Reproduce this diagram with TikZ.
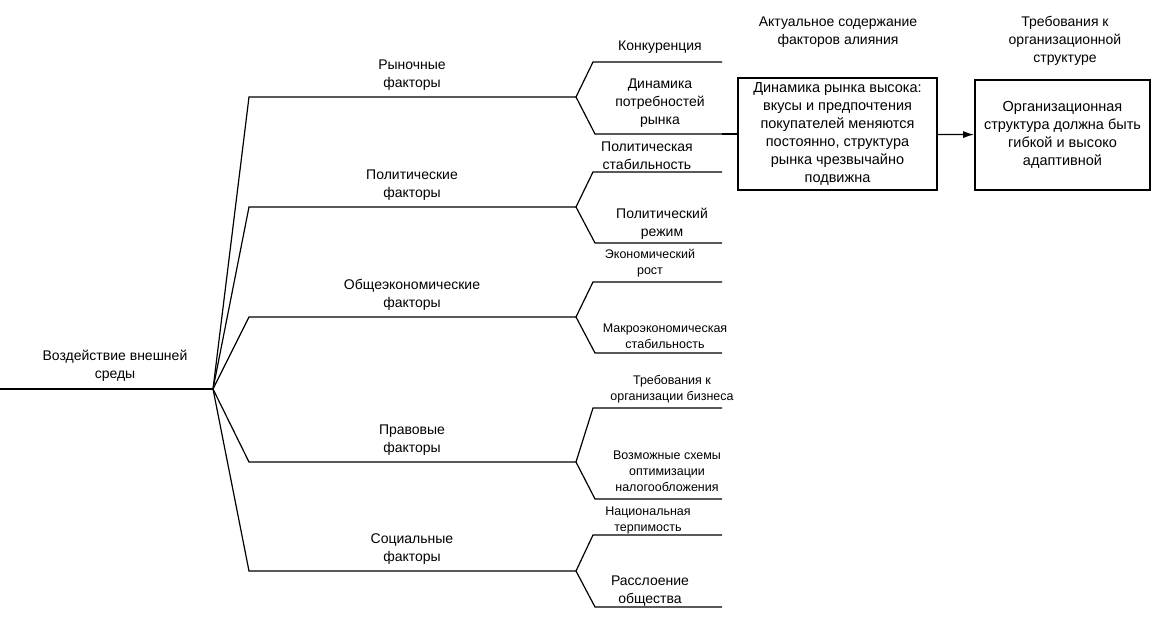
\documentclass[tikz,border=0pt]{standalone}
\usepackage{fontspec}
\setmainfont{Liberation Sans}
\usepackage{tikz}
\usetikzlibrary{arrows.meta}

\begin{document}
\begin{tikzpicture}[x=1pt,y=-1pt,
        every node/.style={align=center,inner sep=0pt},
        big/.style={font=\fontsize{14}{18}\selectfont},
        small/.style={font=\fontsize{12.5}{16}\selectfont},
        ln/.style={line width=1.2pt},
        box/.style={draw,line width=1.8pt,font=\fontsize{14.5}{18}\selectfont}]
        \useasboundingbox (0,0) rectangle (1159,621);
        % root
        \coordinate (in) at (0,389);
        \coordinate (hub) at (213,389);
        \node[big] (root) at (115,366) {Воздействие внешней\\среды};
        \draw[ln] (in) -- (hub);
        % factors
        \foreach \n/\y/\t in {f1/97/Рыночные,f2/207/Политические,f3/317/Общеэкономические,f4/462/Правовые,f5/571/Социальные}{
            \coordinate (\n s) at (249,\y);
            \coordinate (\n e) at (576,\y);
            \node[big] (\n) at (412,\y-22) {\t\\факторы};
            \draw[ln] (hub) -- (\n s) -- (\n e);
        }
        % sub-branches
        \foreach \n/\a/\b in {f1/62/134,f2/172/243,f3/282/353,f4/408/499,f5/535/607}{
            \coordinate (\n a) at (593,\a);
            \coordinate (\n A) at (722,\a);
            \coordinate (\n b) at (595,\b);
            \coordinate (\n B) at (722,\b);
            \draw[ln] (\n A) -- (\n a) -- (\n e) -- (\n b) -- (\n B);
        }
        \node[big] (s11) at (660,47) {Конкуренция};
        \node[big] (s12) at (660,103) {Динамика\\потребностей\\рынка};
        \node[big] (s21) at (647,156) {Политическая\\стабильность};
        \node[big] (s22) at (662,224) {Политический\\режим};
        \node[small] (s31) at (650,263) {Экономический\\рост};
        \node[small] (s32) at (665,336) {Макроэкономическая\\стабильность};
        \node[small] (s41) at (672,389) {Требования к\\организации бизнеса};
        \node[small] (s42) at (667,471) {Возможные схемы\\оптимизации\\налогообложения};
        \node[small] (s51) at (648,520) {Национальная\\терпимость};
        \node[big] (s52) at (650,591) {Расслоение\\общества};
        % boxes
        \node[big] (h1) at (838,32) {Актуальное содержание\\факторов алияния};
        \node[big] (h2) at (1065,41) {Требования к\\организационной\\структуре};
        \node[box,minimum width=199,minimum height=112] (act) at (837.5,134)
            {Динамика рынка высока:\\вкусы и предпочтения\\покупателей меняются\\постоянно, структура\\рынка чрезвычайно\\подвижна};
        \node[box,minimum width=175,minimum height=110] (req) at (1062.5,135)
            {Организационная\\структура должна быть\\гибкой и высоко\\адаптивной};
        \draw[ln] (f1B) -- (act);
        \draw[ln,-{Latex[length=11pt,width=7pt]}] (act) -- (req);
\end{tikzpicture}
\end{document}
